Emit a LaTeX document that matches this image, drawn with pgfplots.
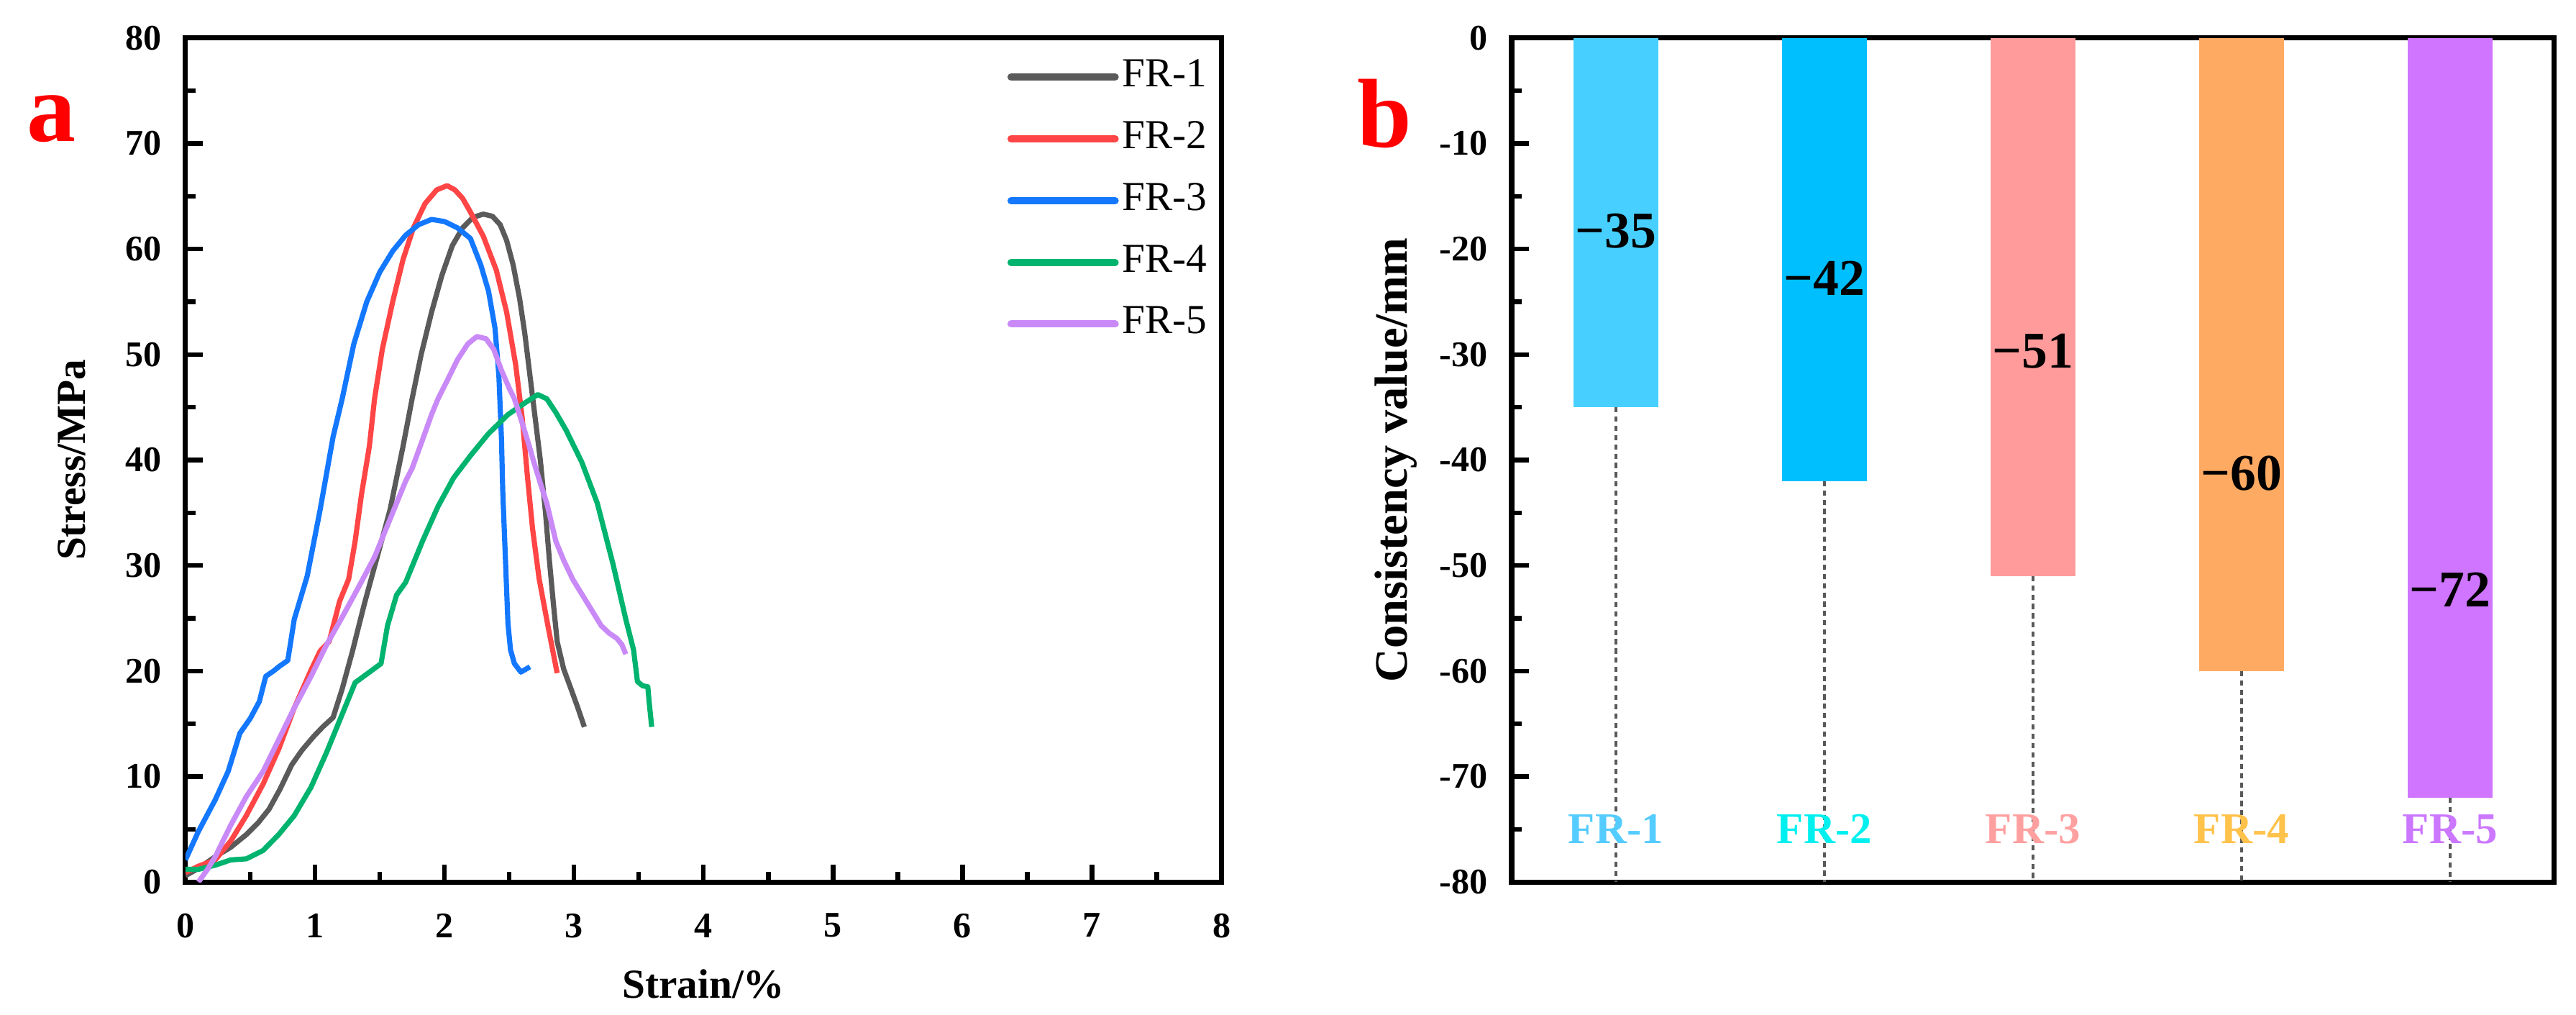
\documentclass[border=0pt]{standalone}
\usepackage{pgfplots}
\pgfplotsset{compat=1.18}
\usepackage{fontspec}
\setmainfont{Liberation Serif}
\definecolor{c1}{HTML}{5A5A5A}
\definecolor{c2}{HTML}{FF4545}
\definecolor{c3}{HTML}{1478FF}
\definecolor{c4}{HTML}{00B36E}
\definecolor{c5}{HTML}{C98AF7}
\definecolor{b1}{HTML}{47D0FF}
\definecolor{b2}{HTML}{00BFFF}
\definecolor{b3}{HTML}{FF9B9B}
\definecolor{b4}{HTML}{FFAA62}
\definecolor{b5}{HTML}{CF75FF}
\definecolor{l1}{HTML}{55CCFF}
\definecolor{l2}{HTML}{00F0F0}
\definecolor{l3}{HTML}{FFA0A0}
\definecolor{l4}{HTML}{FFC24A}
\definecolor{l5}{HTML}{CC77FF}
\begin{document}
\begin{tikzpicture}
\useasboundingbox (0,0) rectangle (500pt,196.96pt);
\pgfplotsset{
  common/.style={
    scale only axis, anchor=south west,
    axis line style={line width=1pt},
    tick align=inside,
    major tick length=3.4pt, minor tick length=2pt,
    every tick/.style={black, line width=0.9pt},
    /pgf/number format/assume math mode=true,
    ticklabel style={font=\bfseries\fontsize{7}{8}\selectfont},
    label style={font=\bfseries\fontsize{8}{9}\selectfont},
    xticklabel style={yshift=-2.6pt}, yticklabel style={xshift=-1.1pt},
  }
}
\begin{axis}[common, at={(36pt,25.8pt)}, width=201.1pt, height=163.8pt,
  xmin=0,xmax=8,ymin=0,ymax=80, xtick={0,...,8}, ytick={0,10,...,80},
  minor x tick num=1, minor y tick num=1, xtick pos=bottom, ytick pos=left,
  xlabel={Strain/\%}, ylabel={Stress/MPa},
  xlabel style={at={(axis description cs:0.5,-0.121)},anchor=center},
  ylabel style={at={(axis description cs:-0.11,0.5)},anchor=center},
  legend style={at={(rel axis cs:1,1)}, anchor=north east, xshift=-2.1pt, yshift=-3.5pt,
    draw=none, fill=none, font=\fontsize{8}{9}\selectfont, inner sep=0pt, outer sep=0pt,
    nodes={inner sep=0.7pt}, column sep=0pt, row sep=3.8pt},
  legend cell align=left,
  legend image code/.code={\draw[#1, line width=1.4pt, line cap=round] (0pt,0pt) -- (20.2pt,0pt);},
  every axis plot/.append style={line width=1.0pt, line join=round},
]
\addplot[c1] coordinates {(0,0.6) (0.1,1.3) (0.23,2.4) (0.35,3.3) (0.47,4.5) (0.56,5.6) (0.645,6.9) (0.73,8.8) (0.82,11.1) (0.9,12.5) (0.99,13.8) (1.06,14.7) (1.14,15.6) (1.21,18.3) (1.29,21.9) (1.38,26.3) (1.48,30.8) (1.58,35.3) (1.68,41.3) (1.75,45.8) (1.82,50) (1.9,54) (1.98,57.5) (2.06,60.3) (2.14,62) (2.22,63) (2.3,63.3) (2.37,63.1) (2.43,62.3) (2.48,60.8) (2.53,58.5) (2.58,55.3) (2.62,52) (2.66,48) (2.7,44) (2.74,40) (2.78,35) (2.81,30.5) (2.84,26.5) (2.87,22.8) (2.92,20.2) (2.98,18.2) (3.03,16.5) (3.08,14.7)};
\addlegendentry{FR-1}
\addplot[c2] coordinates {(0,0.9) (0.1,1.5) (0.23,2.1) (0.35,3.9) (0.47,6.3) (0.6,9.3) (0.72,12.6) (0.84,16.5) (0.97,20.1) (1.04,21.9) (1.11,22.8) (1.19,26.6) (1.26,28.7) (1.31,32.3) (1.36,36.8) (1.42,41.3) (1.46,45.8) (1.52,50.5) (1.6,55) (1.68,59) (1.76,62) (1.85,64.3) (1.94,65.6) (2.02,66.0) (2.08,65.6) (2.14,64.8) (2.2,63.5) (2.3,61.2) (2.4,58) (2.48,54) (2.55,49) (2.6,44) (2.64,38.5) (2.68,33.5) (2.73,28.8) (2.8,24.2) (2.87,19.8)};
\addlegendentry{FR-2}
\addplot[c3] coordinates {(0,2.1) (0.1,4.8) (0.23,7.8) (0.33,10.5) (0.42,14.1) (0.5,15.5) (0.57,17.1) (0.62,19.5) (0.68,20.0) (0.72,20.4) (0.79,21.0) (0.84,24.9) (0.94,29) (1.04,35.3) (1.14,42.2) (1.21,45.8) (1.3,51) (1.4,55) (1.5,57.8) (1.6,59.8) (1.7,61.3) (1.8,62.3) (1.9,62.8) (2.0,62.6) (2.1,62) (2.2,61) (2.28,58.5) (2.34,56) (2.39,52.5) (2.42,48) (2.44,42) (2.45,37) (2.47,30.8) (2.49,24.5) (2.51,22) (2.54,20.7) (2.59,19.9) (2.66,20.4)};
\addlegendentry{FR-3}
\addplot[c4] coordinates {(0,1.2) (0.1,1.2) (0.23,1.6) (0.35,2.1) (0.47,2.2) (0.6,3.0) (0.72,4.5) (0.84,6.3) (0.97,9.0) (1.09,12.3) (1.21,15.9) (1.31,18.9) (1.41,19.8) (1.51,20.7) (1.56,24.3) (1.63,27.2) (1.7,28.4) (1.83,32.3) (1.95,35.6) (2.07,38.3) (2.2,40.4) (2.34,42.5) (2.49,44.3) (2.62,45.4) (2.72,46.2) (2.79,45.8) (2.86,44.5) (2.94,42.8) (3.06,39.8) (3.18,35.9) (3.3,30.2) (3.4,24.9) (3.46,22) (3.49,19) (3.53,18.6) (3.57,18.5) (3.58,17.1) (3.6,14.7)};
\addlegendentry{FR-4}
\addplot[c5] coordinates {(0.1,0) (0.17,1.2) (0.23,2.4) (0.35,5.4) (0.47,8.1) (0.6,10.5) (0.72,13.5) (0.84,16.5) (0.97,19.5) (1.09,22.5) (1.21,25.1) (1.33,27.8) (1.46,30.8) (1.58,34.4) (1.7,38) (1.75,39.2) (1.83,41.9) (1.9,44.3) (1.95,45.8) (2.02,47.5) (2.1,49.5) (2.18,51) (2.25,51.7) (2.32,51.5) (2.38,50.5) (2.44,48.5) (2.5,46.8) (2.54,45.8) (2.6,43.5) (2.65,41.5) (2.69,39.8) (2.74,37.8) (2.79,35.9) (2.86,32.3) (2.92,30.5) (2.99,28.7) (3.08,26.9) (3.15,25.5) (3.21,24.3) (3.27,23.6) (3.33,23.1) (3.37,22.5) (3.4,21.6)};
\addlegendentry{FR-5}
\end{axis}
\begin{axis}[common, at={(293.4pt,25.8pt)}, width=202.4pt, height=163.8pt,
  xmin=0.5,xmax=5.5,ymin=-80,ymax=0, xtick=\empty,
  ytick={-80,-70,...,0}, yticklabels={-80,-70,-60,-50,-40,-30,-20,-10,0},
  minor y tick num=1, ytick pos=left,
  ylabel={Consistency value/mm},
  ylabel style={at={(axis description cs:-0.111,0.5)},anchor=center,font=\bfseries\fontsize{9}{10}\selectfont},
  ybar, bar width=16.5pt, bar shift=0pt,
]
\addplot[sharp plot, draw=black!65, line width=0.6pt, dash pattern=on 1pt off 0.8pt] coordinates {(1,-35) (1,-80)};
\addplot[sharp plot, draw=black!65, line width=0.6pt, dash pattern=on 1pt off 0.8pt] coordinates {(2,-42) (2,-80)};
\addplot[sharp plot, draw=black!65, line width=0.6pt, dash pattern=on 1pt off 0.8pt] coordinates {(3,-51) (3,-80)};
\addplot[sharp plot, draw=black!65, line width=0.6pt, dash pattern=on 1pt off 0.8pt] coordinates {(4,-60) (4,-80)};
\addplot[sharp plot, draw=black!65, line width=0.6pt, dash pattern=on 1pt off 0.8pt] coordinates {(5,-72) (5,-80)};
\addplot[fill=b1, draw=none] coordinates {(1,-35)};
\addplot[fill=b2, draw=none] coordinates {(2,-42)};
\addplot[fill=b3, draw=none] coordinates {(3,-51)};
\addplot[fill=b4, draw=none] coordinates {(4,-60)};
\addplot[fill=b5, draw=none] coordinates {(5,-72)};
\begin{scope}[every node/.style={font=\bfseries\fontsize{10}{12}\selectfont}]
\node at (axis cs:1,-18.3) {−35};
\node at (axis cs:2,-22.8) {−42};
\node at (axis cs:3,-29.7) {−51};
\node at (axis cs:4,-41.3) {−60};
\node at (axis cs:5,-52.3) {−72};
\end{scope}
\begin{scope}[every node/.style={font=\bfseries\fontsize{8.5}{10}\selectfont}]
\node[text=l1] at (axis cs:1,-75) {FR-1};
\node[text=l2] at (axis cs:2,-75) {FR-2};
\node[text=l3] at (axis cs:3,-75) {FR-3};
\node[text=l4] at (axis cs:4,-75) {FR-4};
\node[text=l5] at (axis cs:5,-75) {FR-5};
\end{scope}
\end{axis}
\node[text=red, font=\bfseries\fontsize{19}{19}\selectfont] at (10pt,173.9pt) {a};
\node[text=red, font=\bfseries\fontsize{19}{19}\selectfont] at (268.7pt,174.9pt) {b};
\end{tikzpicture}
\end{document}
